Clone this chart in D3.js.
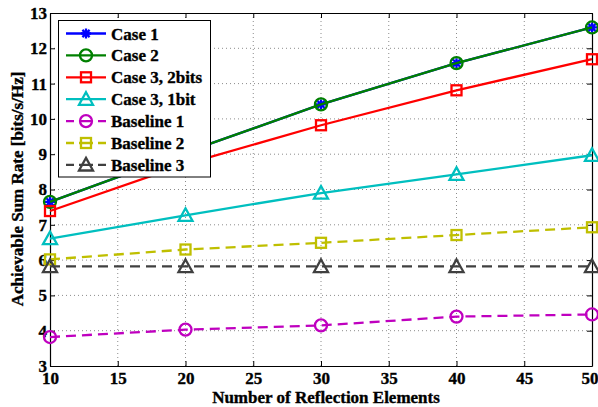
<!DOCTYPE html>
<html>
<head>
<meta charset="utf-8">
<script src="https://cdn.jsdelivr.net/npm/d3@7"></script>
<style>
  html, body { margin: 0; padding: 0; background: #fff; }
  svg { display: block; }
  text { font-family: "Liberation Serif", "Times New Roman", serif; font-weight: bold; fill: #000;
         stroke: #000; stroke-width: 0.35px; }
</style>
</head>
<body>
<svg id="chart" width="598" height="407"></svg>
<script>
// Number of reflection elements on the x axis
const elements = [10, 20, 30, 40, 50];

// Achievable sum rate per scheme [bits/s/Hz]
const case1 = [7.65, 9.05, 10.41, 11.58, 12.59];
const case2 = [7.65, 9.05, 10.41, 11.58, 12.59];
const case3TwoBits = [7.39, 8.72, 9.82, 10.81, 11.69];
const case3OneBit = [6.61, 7.27, 7.90, 8.43, 8.97];
const baseline1 = [3.82, 4.03, 4.15, 4.40, 4.46];
const baseline2 = [6.02, 6.30, 6.49, 6.71, 6.93];
const baseline3 = [5.82, 5.82, 5.82, 5.82, 5.82];

const seriesNames = ["Case 1", "Case 2", "Case 3, 2bits", "Case 3, 1bit",
                     "Baseline 1", "Baseline 2", "Baseline 3"];
const seriesValues = [case1, case2, case3TwoBits, case3OneBit, baseline1, baseline2, baseline3];

const xTicks = [10, 15, 20, 25, 30, 35, 40, 45, 50];
const yTicks = [3, 4, 5, 6, 7, 8, 9, 10, 11, 12, 13];

// Drawing styles for each series
const styles = [
  { color: "#0000ff", marker: "asterisk", dash: null },
  { color: "#008000", marker: "circle",   dash: null },
  { color: "#ff0000", marker: "square",   dash: null },
  { color: "#00bfbf", marker: "triangle", dash: null },
  { color: "#bf00bf", marker: "circle",   dash: "10,6" },
  { color: "#bfbf00", marker: "square",   dash: "10,6" },
  { color: "#404040", marker: "triangle", dash: "10,6" }
];

const fontSize = "17px";
const lineW = 2.3;
const svg = d3.select("#chart");
const plotLeft = 50, plotRight = 592, plotTop = 13, plotBottom = 366;

const x = d3.scaleLinear().domain([10, 50]).range([plotLeft, plotRight]);
const y = d3.scaleLinear().domain([3, 13]).range([plotBottom, plotTop]);

// Dotted grid
const grid = svg.append("g").attr("stroke", "#8c8c8c").attr("stroke-width", 1)
  .attr("stroke-dasharray", "1,3");
xTicks.slice(1, -1).forEach(t => {
  grid.append("line").attr("x1", x(t)).attr("x2", x(t)).attr("y1", plotTop).attr("y2", plotBottom);
});
yTicks.slice(1, -1).forEach(t => {
  grid.append("line").attr("x1", plotLeft).attr("x2", plotRight).attr("y1", y(t)).attr("y2", y(t));
});

// Axes with inward ticks on all four sides
const tickLen = 5;
const axB = svg.append("g").attr("transform", `translate(0,${plotBottom})`)
  .call(d3.axisBottom(x).tickValues(xTicks).tickSizeInner(-tickLen).tickSizeOuter(0).tickPadding(6));
const axT = svg.append("g").attr("transform", `translate(0,${plotTop})`)
  .call(d3.axisTop(x).tickValues(xTicks).tickSizeInner(-tickLen).tickSizeOuter(0).tickFormat(""));
const axL = svg.append("g").attr("transform", `translate(${plotLeft},0)`)
  .call(d3.axisLeft(y).tickValues(yTicks).tickSizeInner(-tickLen).tickSizeOuter(0).tickPadding(3));
const axR = svg.append("g").attr("transform", `translate(${plotRight},0)`)
  .call(d3.axisRight(y).tickValues(yTicks).tickSizeInner(-tickLen).tickSizeOuter(0).tickFormat(""));
[axB, axT, axL, axR].forEach(a => {
  a.select(".domain").attr("stroke", "#000").attr("stroke-width", 1.2);
  a.selectAll(".tick line").attr("stroke", "#000").attr("stroke-width", 1);
  a.selectAll("text").style("font-family", '"Liberation Serif", "Times New Roman", serif')
    .style("font-weight", "bold").style("font-size", fontSize).attr("fill", "#000");
});
// The last x label sits against the right edge of the page
axB.selectAll(".tick text").filter(d => d === 50).attr("text-anchor", "end").attr("dx", "6");

// Axis titles
svg.append("text").attr("x", 326).attr("y", 403)
  .attr("text-anchor", "middle").style("font-size", fontSize)
  .text("Number of Reflection Elements");
svg.append("text").attr("transform", "translate(23,189) rotate(-90)")
  .attr("text-anchor", "middle").style("font-size", fontSize)
  .text("Achievable Sum Rate [bits/s/Hz]");

// Marker drawing helper
function drawMarker(g, type, cx, cy, color) {
  if (type === "circle") {
    g.append("circle").attr("cx", cx).attr("cy", cy).attr("r", 6)
      .attr("fill", "none").attr("stroke", color).attr("stroke-width", lineW);
  } else if (type === "square") {
    g.append("rect").attr("x", cx - 5).attr("y", cy - 5).attr("width", 10).attr("height", 10)
      .attr("fill", "none").attr("stroke", color).attr("stroke-width", lineW);
  } else if (type === "triangle") {
    const s = 7;
    g.append("path")
      .attr("d", `M${cx},${cy - s} L${cx + s},${cy + s * 0.8} L${cx - s},${cy + s * 0.8} Z`)
      .attr("fill", "none").attr("stroke", color).attr("stroke-width", lineW).attr("stroke-linejoin", "miter");
  } else if (type === "asterisk") {
    const r = 5, d = r * 0.72;
    const p = `M${cx - r},${cy} L${cx + r},${cy} M${cx},${cy - r} L${cx},${cy + r}` +
              ` M${cx - d},${cy - d} L${cx + d},${cy + d} M${cx - d},${cy + d} L${cx + d},${cy - d}`;
    g.append("path").attr("d", p).attr("stroke", color).attr("stroke-width", lineW).attr("fill", "none");
  }
}

// Series lines and markers
const line = d3.line().x((d, i) => x(elements[i])).y(d => y(d));
seriesValues.forEach((vals, k) => {
  const st = styles[k];
  const g = svg.append("g");
  g.append("path").datum(vals).attr("d", line)
    .attr("fill", "none").attr("stroke", st.color).attr("stroke-width", lineW)
    .attr("stroke-dasharray", st.dash);
  vals.forEach((v, i) => drawMarker(g, st.marker, x(elements[i]), y(v), st.color));
});

// Legend
const lg = svg.append("g");
lg.append("rect").attr("x", 58.5).attr("y", 20.5).attr("width", 152).attr("height", 156.5)
  .attr("fill", "#fff").attr("stroke", "#000").attr("stroke-width", 1);
seriesNames.forEach((name, k) => {
  const st = styles[k];
  const yy = 33.5 + k * 21.9;
  lg.append("line").attr("x1", 66).attr("x2", 106).attr("y1", yy).attr("y2", yy)
    .attr("stroke", st.color).attr("stroke-width", lineW)
    .attr("stroke-dasharray", st.dash ? "8,5,14,5,8" : null);
  drawMarker(lg, st.marker, 86, yy, st.color);
  lg.append("text").attr("x", 111).attr("y", yy + 6).style("font-size", fontSize).text(name);
});
</script>
</body>
</html>
